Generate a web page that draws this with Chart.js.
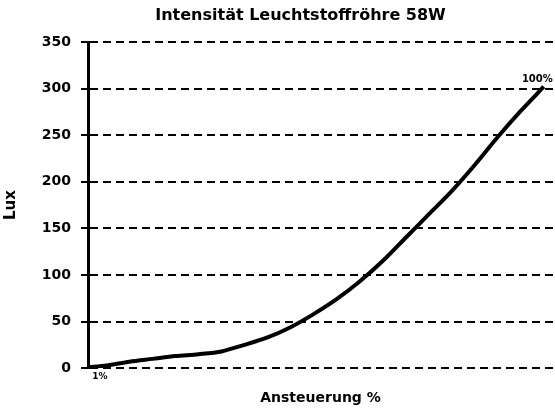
<!DOCTYPE html>
<html>
<head>
<meta charset="utf-8">
<script src="https://cdn.jsdelivr.net/npm/chart.js@4/dist/chart.umd.min.js"></script>
<style>
  html, body { margin: 0; padding: 0; background: #fff; }
  #wrap { width: 555px; height: 413px; }
</style>
</head>
<body>
<div id="wrap"><canvas id="luxChart"></canvas></div>
<script>
// Ansteuerung in % (x) und gemessene Helligkeit in Lux (y)
const ansteuerung = [1, 5, 10, 15, 20, 25, 30, 35, 40, 45, 50, 55, 60, 65, 70, 75, 80, 85, 90, 95, 100];
const lux = [1, 3, 7, 10, 13, 15, 18, 25, 33, 44, 58, 74, 93, 115, 140, 165, 190, 218, 248, 276, 302];
const yTicks = [0, 50, 100, 150, 200, 250, 300, 350];
const punktLabels = { 0: '1%', 20: '100%' }; // nur erster und letzter Punkt beschriftet

const chartTitle = 'Intensität Leuchtstoffröhre 58W';
const fontFam = '"DejaVu Sans", sans-serif';

// Titel etwas links von der Mitte, wie im Original
const titlePlugin = {
  id: 'titelText',
  afterDraw(chart) {
    const ctx = chart.ctx;
    const a = chart.chartArea;
    ctx.save();
    ctx.font = 'bold 16px ' + fontFam;
    ctx.fillStyle = '#000';
    ctx.textAlign = 'center';
    ctx.textBaseline = 'middle';
    ctx.fillText(chartTitle, (a.left + a.right) / 2 - 20, 16);
    ctx.restore();
  }
};

// Datenbeschriftung fuer ersten und letzten Punkt
const labelPlugin = {
  id: 'punktLabels',
  afterDatasetsDraw(chart) {
    const ctx = chart.ctx;
    const meta = chart.getDatasetMeta(0);
    ctx.save();
    ctx.fillStyle = '#000';
    Object.keys(punktLabels).forEach(i => {
      const pt = meta.data[i];
      if (!pt) return;
      if (Number(i) === 0) {
        ctx.font = 'bold 9px ' + fontFam;
        ctx.textAlign = 'center';
        ctx.textBaseline = 'top';
        ctx.fillText(punktLabels[i], pt.x + 12, pt.y + 5);
      } else {
        ctx.font = 'bold 10px ' + fontFam;
        ctx.textAlign = 'right';
        ctx.textBaseline = 'bottom';
        ctx.fillText(punktLabels[i], pt.x + 9, pt.y - 2);
      }
    });
    ctx.restore();
  }
};

const ctx = document.getElementById('luxChart').getContext('2d');
new Chart(ctx, {
  type: 'line',
  data: {
    datasets: [{
      label: 'Lux',
      data: ansteuerung.map((x, i) => ({ x: x, y: lux[i] })),
      borderColor: '#000',
      borderWidth: 4,
      pointRadius: 0,
      tension: 0.3,
      fill: false
    }]
  },
  options: {
    responsive: true,
    maintainAspectRatio: false,
    animation: false,
    layout: { padding: { top: 42, right: 2, bottom: 4, left: 2 } },
    plugins: {
      legend: { display: false },
      title: { display: false },
      tooltip: { enabled: false }
    },
    scales: {
      x: {
        type: 'linear',
        min: 1,
        max: 102,
        grid: { display: false, drawTicks: false },
        border: { display: false },
        ticks: { display: false },
        title: {
          display: true,
          text: 'Ansteuerung %',
          color: '#000',
          font: { family: fontFam, size: 14, weight: 'bold' },
          padding: { top: 22, bottom: 2 }
        }
      },
      y: {
        min: 0,
        max: 350,
        afterBuildTicks: s => { s.ticks = yTicks.map(v => ({ value: v })); },
        afterFit: s => { s.width = 86; },
        grid: {
          color: '#000',
          lineWidth: 2,
          tickBorderDash: [],
          tickLength: 7,
          tickColor: '#000',
          tickWidth: 2
        },
        // in v4 steuert border.dash die Gitterlinien
        border: { display: true, color: '#000', width: 3, dash: [8, 5] },
        ticks: {
          color: '#000',
          padding: 10,
          font: { family: fontFam, size: 14, weight: 'bold' }
        },
        title: {
          display: true,
          text: 'Lux',
          color: '#000',
          font: { family: fontFam, size: 15, weight: 'bold' },
          padding: { top: 0, bottom: 0 }
        }
      }
    }
  },
  plugins: [titlePlugin, labelPlugin]
});
</script>
</body>
</html>
